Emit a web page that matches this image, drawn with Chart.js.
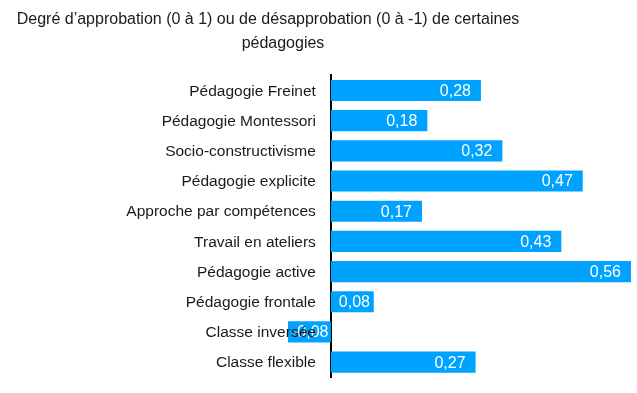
<!DOCTYPE html>
<html>
<head>
<meta charset="utf-8">
<script src="https://cdn.jsdelivr.net/npm/chart.js@4"></script>
<style>
  html,body{margin:0;padding:0;background:#fff;}
  #wrap{width:637px;height:393px;}
</style>
</head>
<body>
<div id="wrap"><canvas id="pedaChart"></canvas></div>
<script>
const categories = ['Pédagogie Freinet', 'Pédagogie Montessori', 'Socio-constructivisme', 'Pédagogie explicite',
  'Approche par compétences', 'Travail en ateliers', 'Pédagogie active', 'Pédagogie frontale',
  'Classe inversée', 'Classe flexible'];
const approbation = [0.28, 0.18, 0.32, 0.47, 0.17, 0.43, 0.56, 0.08, -0.08, 0.27];
const titleLines = ['Degré d’approbation (0 à 1) ou de désapprobation (0 à -1) de certaines', 'pédagogies'];

const fmt=(v)=>v.toFixed(2).replace('.', ',');

// titre sur deux lignes, comme dans Excel
const titlePlugin={
  id:'twoLineTitle',
  afterDraw:(chart)=>{
    const ctx=chart.ctx;
    ctx.save();
    ctx.font='16px "Liberation Sans"';
    ctx.fillStyle='#1a1a1a';
    ctx.textAlign='center';
    ctx.textBaseline='middle';
    ctx.fillText(titleLines[0],268,20);
    ctx.fillText(titleLines[1],283,44);
    ctx.restore();
  }
};

// étiquettes de valeurs dans les barres
const valueLabels={
  id:'valueLabels',
  afterDatasetsDraw:(chart)=>{
    const ctx=chart.ctx;
    const meta=chart.getDatasetMeta(0);
    ctx.save();
    ctx.font='16px "Liberation Sans"';
    ctx.fillStyle='#fff';
    ctx.textBaseline='middle';
    meta.data.forEach((bar,i)=>{
      const v=approbation[i];
      const txt=fmt(v);
      if(v>=0){
        // barre courte : l'étiquette se colle vers le bout de la barre
        const w=ctx.measureText(txt).width;
        const right=Math.min(bar.x-3,Math.max(bar.x-10,bar.base+8+w));
        ctx.textAlign='right';
        ctx.fillText(txt,right,bar.y+1);
      }else{
        ctx.textAlign='left';
        ctx.fillText(txt,bar.x+4,bar.y+1);
      }
    });
    ctx.restore();
  }
};

// libellés des catégories, à gauche de l'axe (ils passent par-dessus la barre négative)
const categoryLabels={
  id:'categoryLabels',
  afterDraw:(chart)=>{
    const ctx=chart.ctx;
    const xs=chart.scales.x;
    const ys=chart.scales.y;
    const x0=xs.getPixelForValue(0);
    ctx.save();
    ctx.font='15.5px "Liberation Sans"';
    ctx.fillStyle='#1a1a1a';
    ctx.textAlign='right';
    ctx.textBaseline='middle';
    categories.forEach((c,i)=>{
      ctx.fillText(c,x0-15,ys.getPixelForValue(i)+1);
    });
    ctx.restore();
  }
};

const loadChart=()=>{
  const ctx=document.getElementById('pedaChart');
  new Chart(ctx,{
    type:'bar',
    data:{
      labels:categories,
      datasets:[{
        data:approbation,
        backgroundColor:'#00a2ff',
        borderWidth:0,
        categoryPercentage:0.7,
        barPercentage:1
      }]
    },
    options:{
      indexAxis:'y',
      responsive:true,
      maintainAspectRatio:false,
      animation:false,
      layout:{padding:{top:75.4,bottom:15.8,left:20,right:1.7}},
      plugins:{legend:{display:false},tooltip:{enabled:false},title:{display:false}},
      scales:{
        x:{
          display:false,
          min:-0.58,
          max:0.568
        },
        y:{
          position:{x:0},
          grid:{display:false,drawTicks:false},
          border:{display:true,color:'#000',width:2},
          ticks:{display:false}
        }
      }
    },
    plugins:[valueLabels,categoryLabels,titlePlugin]
  });
};
loadChart();
</script>
</body>
</html>
